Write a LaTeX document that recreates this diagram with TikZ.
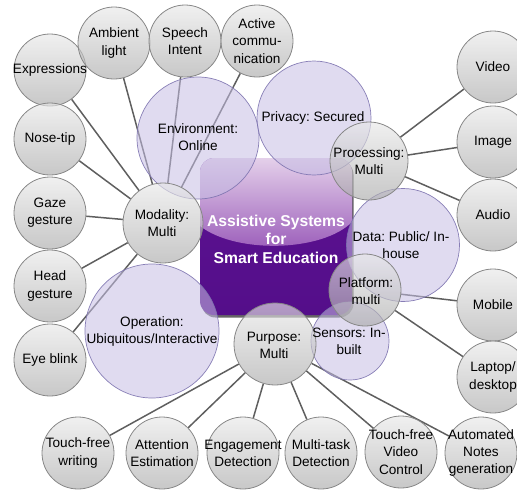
\documentclass[tikz,border=0pt]{standalone}
\usepackage{fontspec}
\setmainfont{Liberation Sans}
\frenchspacing
\pgfdeclarelayer{links}
\pgfsetlayers{links,main}
\definecolor{gtop}{RGB}{232,232,232}
\definecolor{gbot}{RGB}{170,170,170}
\definecolor{gline}{RGB}{135,135,135}
\definecolor{lavfill}{RGB}{198,190,228}
\definecolor{lavline}{RGB}{125,115,175}
\definecolor{linkcol}{RGB}{95,95,95}
\definecolor{corebase}{RGB}{92,18,145}
\definecolor{corelow}{RGB}{84,14,138}
\definecolor{glosstop}{RGB}{228,208,234}
\definecolor{glossbot}{RGB}{152,88,184}
\begin{document}
\begin{tikzpicture}[x=1pt,y=-1pt,
  leaf/.style={circle, draw=gline, line width=0.8pt, top color=gtop, bottom color=gbot,
    fill opacity=0.65, draw opacity=1, inner sep=0pt, minimum size=72pt},
  hub/.style={leaf, minimum size=#1},
  facet/.style={circle, draw=lavline, line width=0.7pt, fill=lavfill,
    fill opacity=0.55, draw opacity=0.9, inner sep=0pt, minimum size=#1},
  txt/.style={align=center, inner sep=0pt, text=black,
    font=\fontsize{13.6}{17.2}\selectfont},
  link/.style={draw=linkcol, line width=1.5pt}]
\useasboundingbox (0,0) rectangle (517,491);

% central box with glossy top
\fill[black, opacity=0.6, rounded corners=14pt] (201.5,160.5) rectangle (353.5,317.5);
\node[rounded corners=14pt, minimum width=152pt, minimum height=157pt,
  inner sep=0pt, bottom color=corelow, top color=corebase] (core) at (276,236.5) {};
\begin{scope}
  \clip[rounded corners=14pt] (200,158) rectangle (352,315);
  \shade[top color=glosstop, bottom color=glossbot]
    (200,158) -- (352,158) -- (352,222) .. controls (322,252) and (236,254) .. (200,226) -- cycle;
\end{scope}

% facet circles
\node[facet=122pt] (env) at (198,138) {};
\node[facet=114pt] (privacy) at (314,118) {};
\node[facet=113pt] (data) at (403,245) {};
\node[facet=134pt] (operation) at (152,331) {};
\node[facet=78pt] (sensors) at (350,341) {};

% hubs
\node[hub=80pt] (modality) at (163,223) {};
\node[hub=78pt] (processing) at (369,161) {};
\node[hub=72pt] (platform) at (365,290) {};
\node[hub=82pt] (purpose) at (275,344) {};

% leaves
\node[leaf] (expr) at (50,70) {};
\node[leaf] (nose) at (50,139) {};
\node[leaf] (gaze) at (50,213) {};
\node[leaf] (head) at (50,286) {};
\node[leaf] (blink) at (50,360) {};
\node[leaf] (ambient) at (114,43) {};
\node[leaf] (speech) at (185,41) {};
\node[leaf] (active) at (257,41) {};
\node[leaf] (video) at (493,67) {};
\node[leaf] (image) at (493,142) {};
\node[leaf] (audio) at (493,215) {};
\node[leaf] (mobile) at (493,305) {};
\node[leaf] (laptop) at (493,377) {};
\node[leaf] (notes) at (481,453) {};
\node[leaf] (tfvideo) at (401,452) {};
\node[leaf] (multitask) at (321,453) {};
\node[leaf] (engage) at (243,453) {};
\node[leaf] (attention) at (162,453) {};
\node[leaf] (tfwrite) at (78,453) {};

% connectors
\begin{pgfonlayer}{links}
  \foreach \t in {expr,nose,gaze,head,blink,ambient,speech,active}
    \draw[link] (modality) -- (\t);
  \foreach \t in {video,image,audio}
    \draw[link] (processing) -- (\t);
  \foreach \t in {mobile,laptop}
    \draw[link] (platform) -- (\t);
  \foreach \t in {tfwrite,attention,engage,multitask,tfvideo,notes}
    \draw[link] (purpose) -- (\t);
\end{pgfonlayer}

% labels
\node[text=white, align=center, inner sep=0pt, font=\bfseries\fontsize{15.7}{18.6}\selectfont]
  (core-t) at (276,239) {Assistive Systems\\for\\Smart Education};
\node[txt] (env-t) at (198,137) {Environment:\\Online};
\node[txt] (privacy-t) at (313,118) {Privacy: Secured};
\node[txt] (data-t) at (401,245.5) {Data: Public/ In-\\house};
\node[txt] (operation-t) at (152,331.5) {Operation:\\Ubiquitous/Interactive};
\node[txt] (sensors-t) at (349,341.5) {Sensors: In-\\built};
\node[txt] (modality-t) at (162,223) {Modality:\\Multi};
\node[txt] (processing-t) at (369,161) {Processing:\\Multi};
\node[txt] (platform-t) at (366,291.5) {Platform:\\multi};
\node[txt] (purpose-t) at (274,345) {Purpose:\\Multi};
\node[txt] (expr-t) at (expr) {Expressions};
\node[txt] (nose-t) at (nose) {Nose-tip};
\node[txt] (gaze-t) at (gaze) {Gaze\\gesture};
\node[txt] (head-t) at (head) {Head\\gesture};
\node[txt] (blink-t) at (blink) {Eye blink};
\node[txt] (ambient-t) at (ambient) {Ambient\\light};
\node[txt] (speech-t) at (speech) {Speech\\Intent};
\node[txt] (active-t) at (active) {Active\\commu-\\nication};
\node[txt] (video-t) at (video) {Video};
\node[txt] (image-t) at (image) {Image};
\node[txt] (audio-t) at (audio) {Audio};
\node[txt] (mobile-t) at (mobile) {Mobile};
\node[txt] (laptop-t) at (laptop) {Laptop/\\desktop};
\node[txt] (notes-t) at (notes) {Automated\\Notes\\generation};
\node[txt] (tfvideo-t) at (tfvideo) {Touch-free\\Video\\Control};
\node[txt] (multitask-t) at (multitask) {Multi-task\\Detection};
\node[txt] (engage-t) at (engage) {Engagement\\Detection};
\node[txt] (attention-t) at (attention) {Attention\\Estimation};
\node[txt] (tfwrite-t) at (tfwrite) {Touch-free\\writing};
\end{tikzpicture}
\end{document}
